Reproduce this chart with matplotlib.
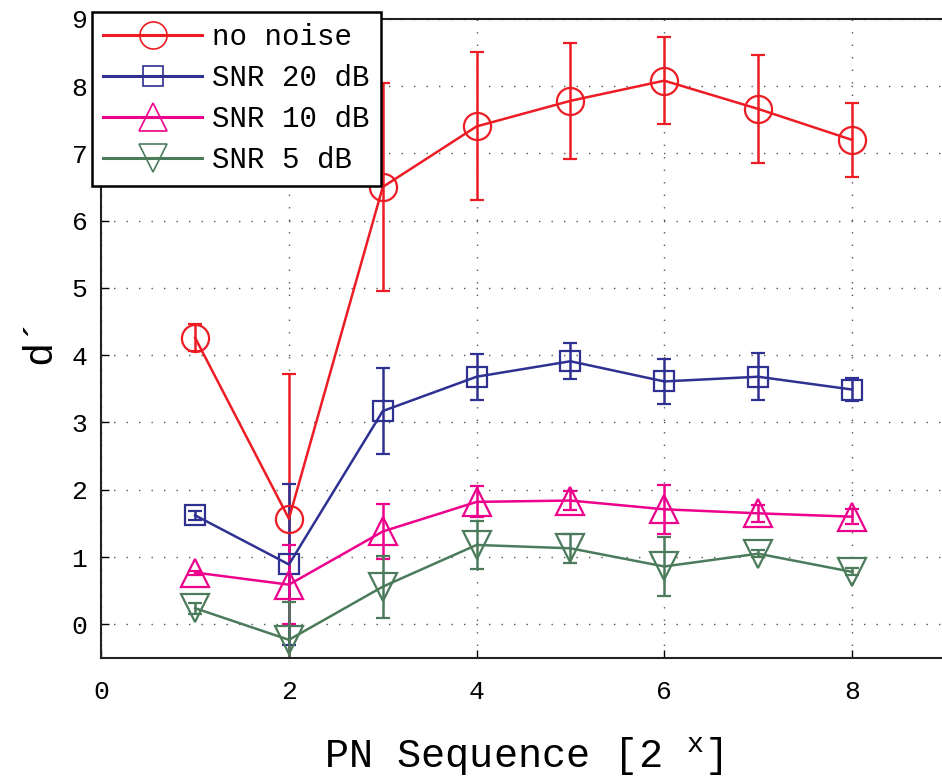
import matplotlib
matplotlib.use("Agg")
import matplotlib.pyplot as plt
from matplotlib.lines import Line2D
import numpy as np

plt.rcParams['font.family'] = ['Liberation Mono', 'DejaVu Sans Mono']
plt.rcParams['mathtext.fontset'] = 'custom'
plt.rcParams['mathtext.rm'] = 'Liberation Mono'

# PN sequence length exponent
seq_x = [1, 2, 3, 4, 5, 6, 7, 8]

labels = ['no noise', 'SNR 20 dB', 'SNR 10 dB', 'SNR 5 dB']

no_noise = [4.26, 1.57, 6.50, 7.40, 7.78, 8.08, 7.66, 7.20]
no_noise_err = [0.20, 2.15, 1.55, 1.10, 0.86, 0.65, 0.80, 0.55]

snr20 = [1.62, 0.89, 3.17, 3.68, 3.91, 3.61, 3.68, 3.49]
snr20_err = [0.07, 1.20, 0.64, 0.34, 0.27, 0.33, 0.35, 0.17]

snr10 = [0.77, 0.59, 1.38, 1.82, 1.84, 1.71, 1.65, 1.60]
snr10_err = [0.03, 0.59, 0.41, 0.23, 0.14, 0.36, 0.13, 0.11]

snr5 = [0.24, -0.23, 0.56, 1.18, 1.13, 0.86, 1.05, 0.78]
snr5_err = [0.08, 0.56, 0.46, 0.36, 0.22, 0.44, 0.05, 0.05]

colors = ['#ED1C24', '#2E3192', '#EC008C', '#4B7B5B']
markers = ['o', 's', '^', 'v']
msizes = [19.5, 15, 20, 20]

series = [no_noise, snr20, snr10, snr5]
errors = [no_noise_err, snr20_err, snr10_err, snr5_err]

fig = plt.figure(figsize=(9.42, 7.81), dpi=100)
ax = fig.add_axes([0.1075, 0.1575, 0.8965, 0.8185])

handles = []
for y, e, c, m, ms, lab in zip(series, errors, colors, markers, msizes, labels):
    ax.errorbar(seq_x, y, yerr=e, color=c, marker=m, markersize=ms,
                markerfacecolor='none', markeredgecolor=c, markeredgewidth=1.6,
                linewidth=1.8, elinewidth=1.8, capsize=4.7, capthick=1.8)
    # legend entry: line + marker only, no error bar
    handles.append(Line2D([], [], color=c, marker=m, markersize=ms,
                          markerfacecolor='none', markeredgewidth=1.2,
                          linewidth=2.2, label=lab))

ax.set_xlim(0, 9)
ax.set_ylim(-0.5, 9)
ax.set_xticks([0, 2, 4, 6, 8])
ax.set_yticks(range(0, 10))
ax.grid(True, color='#555555', linestyle=(0, (1, 8)), linewidth=1.0)
ax.tick_params(direction='in', length=6, width=1, labelsize=19, colors='black')
ax.tick_params(axis='x', pad=16)
ax.tick_params(axis='y', pad=10)
for sp in ax.spines.values():
    sp.set_linewidth(1.5)
    sp.set_color('#222222')

ax.set_xlabel(r'PN Sequence [2 $^{\mathrm{x}}$]', fontsize=29)
ax.xaxis.set_label_coords(0.5, -0.155)
ax.xaxis.label.set_verticalalignment('center')
ax.set_ylabel('d´', fontsize=29)
ax.yaxis.set_label_coords(-0.073, 0.497)
ax.yaxis.label.set_verticalalignment('center')

leg = ax.legend(handles=handles, loc='upper left',
                bbox_to_anchor=(92 / 942, 1 - 12 / 781),
                bbox_transform=fig.transFigure, fontsize=21, frameon=True,
                fancybox=False, framealpha=1, edgecolor='black',
                handlelength=3.4, handletextpad=0.35, labelspacing=0.45,
                borderpad=0.38, borderaxespad=0)
leg.get_frame().set_linewidth(1.8)

fig.savefig('out.png', dpi=100)
